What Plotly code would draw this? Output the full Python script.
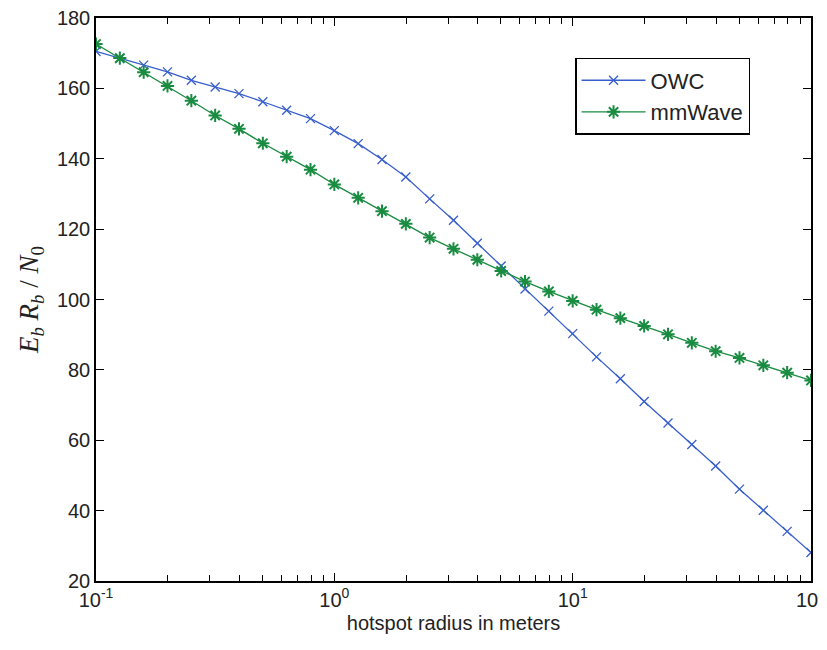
import plotly.graph_objects as go

# hotspot radius (m), 10 points per decade from 0.1 to 100
radius = [0.1, 0.1259, 0.1585, 0.1995, 0.2512, 0.3162, 0.3981, 0.5012, 0.631, 0.7943,
          1.0, 1.259, 1.585, 1.995, 2.512, 3.162, 3.981, 5.012, 6.31, 7.943,
          10.0, 12.59, 15.85, 19.95, 25.12, 31.62, 39.81, 50.12, 63.1, 79.43, 100.0]

owc = [170.5, 168.5, 166.6, 164.7, 162.3, 160.4, 158.5, 156.2, 153.8, 151.4,
       148.0, 144.3, 139.8, 134.8, 128.6, 122.5, 116.0, 109.5, 103.0, 96.7,
       90.3, 83.7, 77.5, 71.0, 64.9, 58.8, 52.7, 46.1, 40.1, 34.1, 28.1]

mmwave = [172.6, 168.6, 164.6, 160.7, 156.5, 152.3, 148.5, 144.4, 140.6, 136.9,
          132.7, 128.9, 125.1, 121.5, 117.6, 114.4, 111.3, 108.1, 105.1, 102.3,
          99.6, 97.1, 94.7, 92.5, 90.1, 87.7, 85.3, 83.4, 81.3, 79.2, 77.0]

xtick_vals = [0.1, 1, 10, 100]
xtick_text = ["10<sup>-1</sup>", "10<sup>0</sup>", "10<sup>1</sup>", "10<sup>2</sup>"]
ytick_vals = [20, 40, 60, 80, 100, 120, 140, 160, 180]

minor_vals = [m * d for d in [0.1, 1, 10] for m in range(2, 10)]

blue = "rgb(55,95,205)"
green = "rgb(25,140,65)"

fig = go.Figure()
fig.add_trace(go.Scatter(
    x=radius, y=owc, name="OWC", mode="lines+markers",
    line=dict(color=blue, width=1.3),
    marker=dict(symbol="x-thin-open", size=9, color=blue, line=dict(width=1.3, color=blue)),
))
fig.add_trace(go.Scatter(
    x=radius, y=mmwave, name="mmWave", mode="lines+markers",
    line=dict(color=green, width=1.3),
    marker=dict(symbol="asterisk-open", size=11, color=green, line=dict(width=2, color=green)),
))

fig.update_layout(
    width=819, height=642,
    margin=dict(l=88, r=16, t=10, b=69),
    paper_bgcolor="white", plot_bgcolor="white",
    font=dict(family="Liberation Sans, Arial, sans-serif", size=20, color="#222"),
    showlegend=True,
    legend=dict(
        x=0.67, y=0.929, xanchor="left", yanchor="top",
        bordercolor="black", borderwidth=1.5, bgcolor="white",
        font=dict(size=22), itemwidth=64,
        tracegroupgap=0,
    ),
    xaxis=dict(
        type="log", range=[-1, 2], automargin=False, ticklabeloverflow="allow",
        tickvals=xtick_vals, ticktext=xtick_text,
        ticks="inside", ticklen=8, tickwidth=1.3, tickcolor="black",
        showline=True, linecolor="black", linewidth=1.5, mirror="allticks",
        showgrid=False, zeroline=False,
        minor=dict(tickvals=minor_vals, ticks="inside", ticklen=6, tickwidth=1.3,
                   tickcolor="black", showgrid=False),
        title=dict(text="hotspot radius in meters", font=dict(size=20), standoff=6),
    ),
    yaxis=dict(
        range=[20, 180], tickvals=ytick_vals, automargin=False, ticklabeloverflow="allow",
        ticks="inside", ticklen=8, tickwidth=1.3, tickcolor="black",
        showline=True, linecolor="black", linewidth=1.5, mirror="allticks",
        showgrid=False, zeroline=False,
        title=dict(text="<i>E<sub>b</sub> R<sub>b</sub></i> / <i>N</i><sub>0</sub>",
                   font=dict(family="Liberation Serif, Times New Roman, serif", size=27),
                   standoff=10),
    ),
)

fig.write_html("out.html")
